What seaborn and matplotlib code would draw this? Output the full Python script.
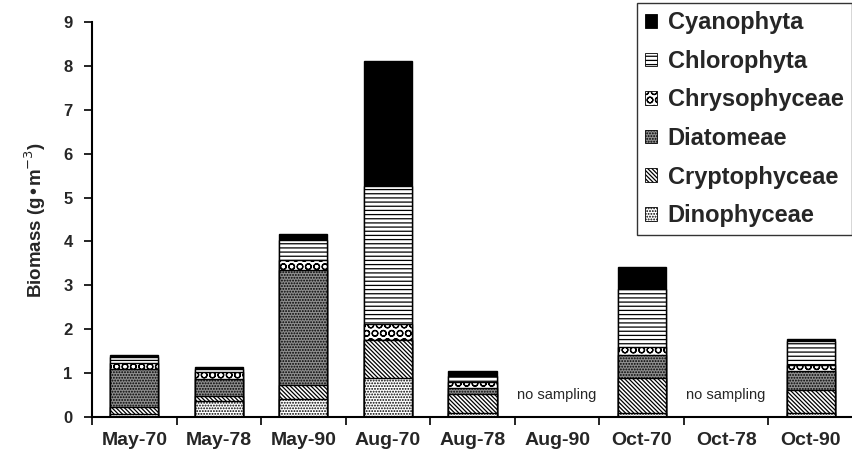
import numpy as np
import pandas as pd
import seaborn as sns
import matplotlib.pyplot as plt
from matplotlib.patches import Patch

# sampling dates and biomass (g m-3) by algal group
dates = ["May-70", "May-78", "May-90", "Aug-70", "Aug-78",
         "Aug-90", "Oct-70", "Oct-78", "Oct-90"]
no_sampling = ["Aug-90", "Oct-78"]

# bottom -> top stacking order
dinophyceae = [0.06, 0.36, 0.40, 0.90, 0.08, np.nan, 0.08, np.nan, 0.10]
cryptophyceae = [0.17, 0.12, 0.33, 0.85, 0.45, np.nan, 0.80, np.nan, 0.52]
diatomeae = [0.86, 0.39, 2.63, 0.00, 0.14, np.nan, 0.53, np.nan, 0.42]
chrysophyceae = [0.13, 0.15, 0.22, 0.36, 0.13, np.nan, 0.18, np.nan, 0.15]
chlorophyta = [0.14, 0.08, 0.45, 3.15, 0.14, np.nan, 1.32, np.nan, 0.54]
cyanophyta = [0.05, 0.03, 0.13, 2.86, 0.10, np.nan, 0.50, np.nan, 0.05]

groups = ["Dinophyceae", "Cryptophyceae", "Diatomeae",
          "Chrysophyceae", "Chlorophyta", "Cyanophyta"]
values = [dinophyceae, cryptophyceae, diatomeae,
          chrysophyceae, chlorophyta, cyanophyta]

# fill style per group (face colour, hatch)
styles = {
    "Dinophyceae": ("white", "......"),
    "Cryptophyceae": ("white", "\\" * 8),
    "Diatomeae": ("#8e8e8e", "......"),
    "Chrysophyceae": ("white", "OO"),
    "Chlorophyta": ("white", "----"),
    "Cyanophyta": ("black", None),
}

df = pd.DataFrame(dict(zip(groups, values)), index=dates)
tops = df.cumsum(axis=1)

sns.set_style("ticks")
plt.rcParams["font.family"] = ["Liberation Sans", "DejaVu Sans"]
plt.rcParams["hatch.linewidth"] = 0.9

fig = plt.figure(figsize=(8.52, 4.62), dpi=100)
ax = fig.add_axes([92 / 852, 45 / 462, 761 / 852, 395 / 462])

# draw cumulative bars from the top layer down so lower layers sit on top
for g in reversed(groups):
    face, hatch = styles[g]
    sns.barplot(x=tops.index, y=tops[g].values, order=dates, ax=ax,
                color=face, saturation=1, width=0.57, edgecolor="black",
                linewidth=1.0, hatch=hatch, errorbar=None)

for d in no_sampling:
    ax.text(dates.index(d), 0.5, "no sampling", ha="center", va="center",
            fontsize=10.5)

ax.set_ylim(0, 9)
ax.set_xlim(-0.5, len(dates) - 0.5)
ax.set_yticks(range(0, 10))
ax.set_xticks(range(len(dates)))
ax.set_xticklabels(dates, fontsize=14, fontweight="bold")
ax.set_xticks(np.arange(-0.5, len(dates) - 0.5, 1), minor=True)
ax.tick_params(axis="x", which="major", length=0, pad=11)
ax.tick_params(axis="x", which="minor", length=6, width=1.2, color="black")
ax.tick_params(axis="y", length=6, width=1.2, color="black", labelsize=12,
               pad=8)
for lbl in ax.get_yticklabels():
    lbl.set_fontweight("bold")
ax.set_xlabel("")
ax.set_ylabel("Biomass (g•m$^{-3}$)", fontsize=13.5, fontweight="bold",
              labelpad=11)
for s in ["left", "bottom"]:
    ax.spines[s].set_linewidth(1.5)
    ax.spines[s].set_color("black")
sns.despine(ax=ax)

handles = [Patch(facecolor=styles[g][0], edgecolor="black",
                 hatch=styles[g][1], linewidth=0.6) for g in reversed(groups)]
leg = fig.legend(handles, list(reversed(groups)), loc="upper right",
                 bbox_to_anchor=(1.0, 1 - 3 / 462), frameon=True,
                 fancybox=False, prop={"weight": "bold", "size": 17},
                 handlelength=0.5, handleheight=0.5, handletextpad=0.45,
                 labelspacing=0.66, borderpad=0.35, borderaxespad=0.0)
leg.get_frame().set_edgecolor("black")
leg.get_frame().set_linewidth(1.0)

fig.savefig("out.png", dpi=100)
